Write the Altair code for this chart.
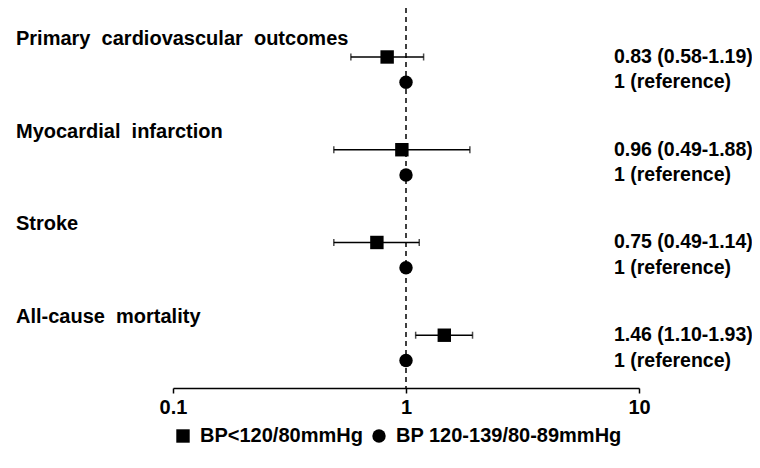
import altair as alt
import pandas as pd

# ---- data ----
outcomes = ["Primary cardiovascular outcomes", "Myocardial infarction", "Stroke", "All-cause mortality"]
hr = [0.83, 0.96, 0.75, 1.46]
ci_low = [0.58, 0.49, 0.49, 1.10]
ci_high = [1.19, 1.88, 1.14, 1.93]
hr_labels = ["0.83 (0.58-1.19)", "0.96 (0.49-1.88)", "0.75 (0.49-1.14)", "1.46 (1.10-1.93)"]
ref_value = 1.0
ref_label = "1 (reference)"
groups = ["BP<120/80mmHg", "BP 120-139/80-89mmHg"]
tick_values = [0.1, 1, 10]

FONT = "Liberation Sans"
FS = 20

rows = []
for i, name in enumerate(outcomes):
    rows.append(dict(outcome=name.replace(" ", "\u00a0 "), group=groups[0], row=11 * i,
                     est=hr[i], lo=ci_low[i], hi=ci_high[i], label=hr_labels[i], kind="trt"))
    rows.append(dict(outcome="", group=groups[1], row=11 * i + 3,
                     est=ref_value, lo=None, hi=None, label=ref_label, kind="ref"))
df = pd.DataFrame(rows)
trt = df[df.kind == "trt"]

xscale = alt.Scale(type="log", domain=[0.1, 10], nice=False)
yscale = alt.Scale(domain=[-5.81, 39.26], reverse=True, nice=False, zero=False)

xaxis = alt.Axis(values=tick_values, format="~g", title=None, grid=False,
                 labelFont=FONT, labelFontSize=FS, labelFontWeight="bold", labelColor="black",
                 labelPadding=4, labelFlush=False,
                 domainColor="black", domainWidth=1.5,
                 tickColor="black", tickWidth=1.5, tickSize=5)

ref_line = alt.Chart(pd.DataFrame({"x": [ref_value]})).mark_rule(
    color="black", strokeDash=[5, 4], strokeWidth=1.5
).encode(x=alt.X("x:Q", scale=xscale, axis=xaxis))

ci = alt.Chart(trt).mark_rule(color="black", strokeWidth=1.5).encode(
    x=alt.X("lo:Q", scale=xscale, axis=xaxis),
    x2="hi:Q",
    y=alt.Y("row:Q", scale=yscale, axis=None),
)

caps = alt.Chart(trt).transform_fold(["lo", "hi"], as_=["end", "val"]).mark_tick(
    color="black", orient="vertical", size=7, thickness=1.5
).encode(
    x=alt.X("val:Q", scale=xscale, axis=xaxis),
    y=alt.Y("row:Q", scale=yscale, axis=None),
)

points = alt.Chart(df).mark_point(filled=True, opacity=1, size=180, color="black").encode(
    x=alt.X("est:Q", scale=xscale, axis=xaxis),
    y=alt.Y("row:Q", scale=yscale, axis=None),
    shape=alt.Shape("group:N", scale=alt.Scale(domain=groups, range=["square", "circle"]),
                    legend=alt.Legend(title=None, orient="none", legendX=0, legendY=418,
                                      direction="horizontal", padding=0, labelLimit=0,
                                      labelFont=FONT, labelFontSize=FS, labelFontWeight="bold",
                                      labelColor="black", symbolSize=180,
                                      symbolFillColor="black", symbolStrokeColor="black",
                                      symbolOpacity=1, labelOffset=7, columnPadding=6)),
)

right_text = alt.Chart(df).mark_text(
    align="left", baseline="middle", font=FONT, fontSize=19.5, fontWeight="bold", color="black"
).encode(
    x=alt.value(441),
    y=alt.Y("row:Q", scale=yscale, axis=None),
    text="label:N",
)

titles = alt.Chart(trt).mark_text(
    align="left", baseline="middle", font=FONT, fontSize=FS, fontWeight="bold", color="black", dy=-18
).encode(
    x=alt.value(-157),
    y=alt.Y("row:Q", scale=yscale, axis=None),
    text="outcome:N",
)

chart = alt.layer(ref_line, ci, caps, points, right_text, titles).properties(
    width=466, height=380,
    autosize=alt.AutoSizeParams(type="none"),
    padding={"left": 165, "top": 0, "right": 113, "bottom": 70},
).configure_view(stroke=None)

chart.save("out.html", embed_options={"renderer": "svg", "actions": False})
